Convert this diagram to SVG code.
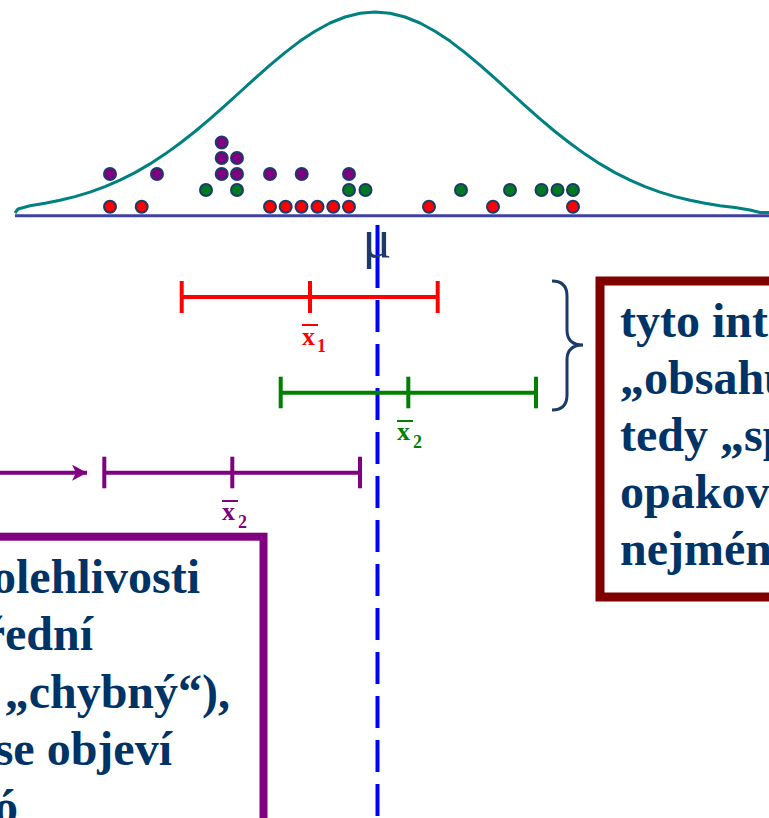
<svg xmlns="http://www.w3.org/2000/svg" width="769" height="818" viewBox="0 0 769 818">
<style>
.dot{stroke:#1b3a6b;stroke-width:2}
.r{fill:#ff0000}.g{fill:#007a1e}.p{fill:#800080}
.big{font-family:"Liberation Serif","Times New Roman",serif;font-weight:bold;font-size:48px;fill:#003366}
.lab{font-family:"Liberation Serif","Times New Roman",serif;font-weight:bold}
</style>
<defs>
<marker id="ah" markerWidth="16" markerHeight="16" refX="15" refY="8" orient="auto" markerUnits="userSpaceOnUse">
<path d="M15,8 L0,0 L4,8 L0,16 Z" fill="#800080"/>
</marker>
</defs>
<rect width="769" height="818" fill="#ffffff"/>
<g id="distribution">
<line x1="15" y1="215.8" x2="769" y2="215.8" stroke="#4040a0" stroke-width="3"/>
<polyline fill="none" stroke="#008080" stroke-width="3" stroke-linejoin="round" points="15,213 18,209 30,205.7 45,203.3 60,200.3 75,196.6 90,192.1 105,186.6 120,180.1 135,172.6 150,163.9 165,154.1 180,143.3 195,131.5 210,118.8 225,105.6 240,92 255,78.4 270,65.1 285,52.6 300,41.1 315,31.2 330,23 345,17 360,13.3 375,12 390,13.3 405,17 420,23 435,31.2 450,41.1 465,52.6 480,65.1 495,78.4 510,92 525,105.6 540,118.8 555,131.5 570,143.3 585,154.1 600,163.9 615,172.6 630,180.1 645,186.6 660,192.1 675,196.6 690,200.3 705,203.3 720,205.7 735,207.6 750,210 760,212.5 769,212.5"/>
</g>
<g id="samples">
<circle class="dot r" cx="110" cy="206.7" r="6"/><circle class="dot r" cx="141.7" cy="206.7" r="6"/>
<circle class="dot r" cx="270" cy="206.7" r="6"/><circle class="dot r" cx="285.7" cy="206.7" r="6"/>
<circle class="dot r" cx="301.5" cy="206.7" r="6"/><circle class="dot r" cx="317.5" cy="206.7" r="6"/>
<circle class="dot r" cx="333.3" cy="206.7" r="6"/><circle class="dot r" cx="349" cy="206.7" r="6"/>
<circle class="dot r" cx="429" cy="206.7" r="6"/><circle class="dot r" cx="493" cy="206.7" r="6"/>
<circle class="dot r" cx="573" cy="206.7" r="6"/>
<circle class="dot g" cx="206" cy="190" r="6"/><circle class="dot g" cx="237" cy="190" r="6"/>
<circle class="dot g" cx="349" cy="190" r="6"/><circle class="dot g" cx="365.5" cy="190" r="6"/>
<circle class="dot g" cx="461" cy="190" r="6"/><circle class="dot g" cx="510" cy="190" r="6"/>
<circle class="dot g" cx="541.5" cy="190" r="6"/><circle class="dot g" cx="557.5" cy="190" r="6"/>
<circle class="dot g" cx="573" cy="190" r="6"/>
<circle class="dot p" cx="110" cy="174" r="6"/><circle class="dot p" cx="157" cy="174" r="6"/>
<circle class="dot p" cx="221.7" cy="174" r="6"/><circle class="dot p" cx="237" cy="174" r="6"/>
<circle class="dot p" cx="270" cy="174" r="6"/><circle class="dot p" cx="301.7" cy="174" r="6"/>
<circle class="dot p" cx="349" cy="174" r="6"/>
<circle class="dot p" cx="221.7" cy="158" r="6"/><circle class="dot p" cx="237" cy="158" r="6"/>
<circle class="dot p" cx="221.7" cy="142.5" r="6"/>
</g>
<g id="mean-line">
<line x1="377.5" y1="225" x2="377.5" y2="288" stroke="#0000ff" stroke-width="4"/>
<line x1="377.5" y1="300" x2="377.5" y2="818" stroke="#0000ff" stroke-width="4" stroke-dasharray="32 12"/>
<text x="377" y="257" text-anchor="middle" font-family="'Liberation Serif','Times New Roman',serif" font-size="54" fill="#1a3a6a">μ</text>
</g>
<g id="interval-red" stroke="#ff0000" stroke-width="4">
<line x1="181.7" y1="297" x2="437.7" y2="297"/>
<line x1="181.7" y1="281" x2="181.7" y2="313"/>
<line x1="310" y1="281" x2="310" y2="313"/>
<line x1="437.7" y1="281" x2="437.7" y2="313"/>
<line x1="302" y1="325" x2="318" y2="325" stroke-width="2"/>
<text class="lab" x="302" y="345" font-size="26" fill="#ff0000" stroke="none">x</text>
<text class="lab" x="317" y="352" font-size="18" fill="#ff0000" stroke="none">1</text>
</g>
<g id="interval-green" stroke="#008000" stroke-width="4">
<line x1="280.7" y1="392.7" x2="536" y2="392.7"/>
<line x1="280.7" y1="376.7" x2="280.7" y2="408.3"/>
<line x1="408.3" y1="376.7" x2="408.3" y2="408.3"/>
<line x1="536" y1="376.7" x2="536" y2="408.3"/>
<line x1="397" y1="421" x2="413" y2="421" stroke-width="2"/>
<text class="lab" x="397" y="440" font-size="26" fill="#008000" stroke="none">x</text>
<text class="lab" x="413" y="448" font-size="18" fill="#008000" stroke="none">2</text>
</g>
<g id="interval-purple" stroke="#800080" stroke-width="4">
<line x1="104.3" y1="472.7" x2="360" y2="472.7"/>
<line x1="104.3" y1="456.7" x2="104.3" y2="488.3"/>
<line x1="232.3" y1="456.7" x2="232.3" y2="488.3"/>
<line x1="360" y1="456.7" x2="360" y2="488.3"/>
<line x1="222" y1="501" x2="238" y2="501" stroke-width="2"/>
<text class="lab" x="222" y="520" font-size="26" fill="#800080" stroke="none">x</text>
<text class="lab" x="238" y="528" font-size="18" fill="#800080" stroke="none">2</text>
</g>
<g id="connectors">
<line x1="0" y1="472.7" x2="87" y2="472.7" stroke="#800080" stroke-width="4" marker-end="url(#ah)"/>
<path d="M552,281 Q567,281 567,296 L567,330 Q567,345 583,345 Q567,345 567,360 L567,395 Q567,410 552,410" fill="none" stroke="#1b3a6b" stroke-width="3"/>
</g>
<g id="box-left">
<rect x="-40" y="536.7" width="303.5" height="320" fill="none" stroke="#800080" stroke-width="8"/>
<text class="big" x="200" y="593" text-anchor="end">spolehlivosti</text>
<text class="big" x="93" y="650" text-anchor="end">střední</text>
<text class="big" x="230" y="708" text-anchor="end">„chybný“),</text>
<text class="big" x="172" y="765" text-anchor="end">se objeví</text>
<text class="big" x="-6" y="823">ó</text>
</g>
<g id="box-right">
<rect x="600" y="281" width="220" height="316" fill="none" stroke="#800000" stroke-width="9"/>
<text class="big" x="620" y="337">tyto inte</text>
<text class="big" x="620" y="394">„obsahuj</text>
<text class="big" x="620" y="451">tedy „spr</text>
<text class="big" x="620" y="508">opakov</text>
<text class="big" x="620" y="565">nejmén</text>
</g>
</svg>
